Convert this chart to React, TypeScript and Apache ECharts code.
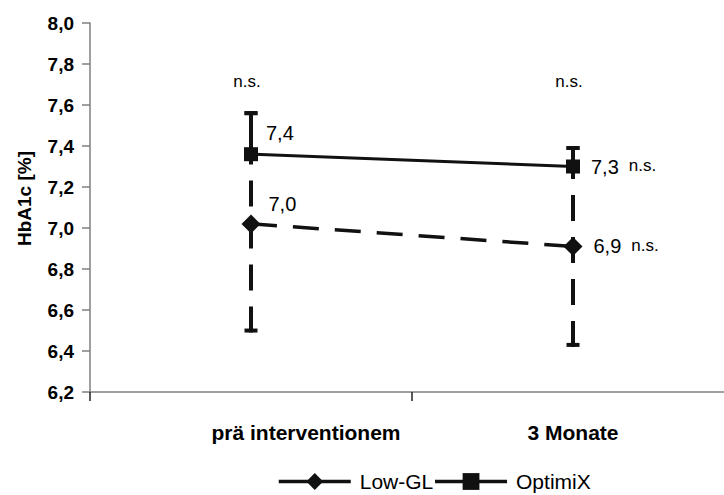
import React, { useEffect, useRef } from "react";
import * as echarts from "echarts";

// HbA1c over time for the two diet groups
const categories = ["prä interventionem", "3 Monate"];
const lowGL = [7.02, 6.91];
const optimix = [7.36, 7.3];
const lowGLLower = [6.49, 6.42];
const lowGLUpper = [7.57, 7.4];
const optimixUpper = [7.57, 7.4];
const significance = ["n.s.", "n.s."];
const significanceLevel = 7.715;
const yTicks = { min: 6.2, max: 8.0, step: 0.2 };

const FONT = '"Liberation Sans", Arial, Helvetica, sans-serif';
const INK = "#000000";

const fmt = (v: number) => v.toFixed(1).replace(".", ",");

export default function App() {
  const ref = useRef<HTMLDivElement>(null);

  useEffect(() => {
    if (!ref.current) return;
    const chart = echarts.init(ref.current, undefined, { renderer: "svg" });

    const errorBar = (dash: boolean, width: number) =>
      function (_params: any, api: any) {
        const i = api.value(0);
        const lo = api.coord([i, api.value(1)]);
        const hi = api.coord([i, api.value(2)]);
        const capHalf = 6.5;
        const style = { stroke: "#111", lineWidth: width, lineDash: dash ? [26, 16] : undefined };
        return {
          type: "group",
          children: [
            {
              type: "line",
              shape: { x1: lo[0], y1: lo[1], x2: hi[0], y2: hi[1] },
              style,
            },
            {
              type: "line",
              shape: { x1: hi[0] - capHalf, y1: hi[1] + 2, x2: hi[0] + capHalf, y2: hi[1] + 2 },
              style: { stroke: "#111", lineWidth: 4 },
            },
            ...(dash
              ? [
                  {
                    type: "line",
                    shape: { x1: lo[0] - capHalf, y1: lo[1] - 2, x2: lo[0] + capHalf, y2: lo[1] - 2 },
                    style: { stroke: "#111", lineWidth: 4 },
                  },
                ]
              : []),
          ],
        };
      };

    const valueLabel = (idx: number, offsetY: number, withSig: boolean) => ({
      show: true,
      position: "right" as const,
      distance: idx === 0 ? 8 : 11,
      offset: [0, offsetY],
      color: INK,
      fontFamily: FONT,
      fontSize: 20,
      formatter: (p: any) =>
        withSig ? `{v|${fmt(p.value)}}{ns|${significance[idx]}}` : fmt(p.value),
      rich: {
        v: { fontFamily: FONT, fontSize: 20, color: INK },
        ns: { fontFamily: FONT, fontSize: 17, color: INK, padding: [0, 0, 2, 10] },
      },
    });

    chart.setOption({
      animation: false,
      backgroundColor: "#ffffff",
      grid: {
        left: 90,
        top: 23,
        width: 644,
        height: 369,
        containLabel: false,
        outerBoundsMode: "none",
      },
      legend: {
        data: ["Low-GL", "OptimiX"],
        left: 272,
        top: 466,
        itemWidth: 72,
        itemHeight: 21,
        itemGap: 0,
        lineStyle: { type: "solid", width: 3.5 },
        textStyle: {
          fontFamily: FONT,
          fontSize: 21,
          color: INK,
          padding: [0, 0, 0, 4],
        },
      },
      xAxis: {
        type: "category",
        data: categories.map((c, i) => ({
          value: c,
          textStyle: i === 0 ? { padding: [0, 0, 0, 110] } : {},
        })),
        boundaryGap: true,
        axisLine: { lineStyle: { color: "#7f7f7f", width: 1.5 } },
        axisTick: { show: true, length: 9, lineStyle: { color: "#222", width: 1.5 } },
        axisLabel: {
          margin: 30,
          color: INK,
          fontFamily: FONT,
          fontWeight: "bold",
          fontSize: 21,
        },
      },
      yAxis: {
        type: "value",
        min: yTicks.min,
        max: yTicks.max,
        interval: yTicks.step,
        name: "HbA1c [%]",
        nameLocation: "middle",
        nameRotate: 90,
        nameGap: 56,
        nameTextStyle: {
          color: INK,
          fontFamily: FONT,
          fontWeight: "bold",
          fontSize: 19,
          padding: [0, 0, 0, 18],
        },
        splitLine: { show: false },
        axisLine: { show: true, lineStyle: { color: "#7f7f7f", width: 1.5 } },
        axisTick: { show: true, length: 8, lineStyle: { color: "#7f7f7f", width: 1.5 } },
        axisLabel: {
          margin: 16,
          color: INK,
          fontFamily: FONT,
          fontWeight: "bold",
          fontSize: 19,
          formatter: (v: number) => fmt(v),
        },
      },
      series: [
        {
          type: "custom",
          name: "Low-GL SD",
          z: 1,
          renderItem: errorBar(true, 4),
          encode: { x: 0, y: [1, 2] },
          data: categories.map((_, i) => [i, lowGLLower[i], lowGLUpper[i]]),
          silent: true,
        },
        {
          type: "custom",
          name: "OptimiX SD",
          z: 1,
          renderItem: errorBar(false, 4),
          encode: { x: 0, y: [1, 2] },
          data: categories.map((_, i) => [i, optimix[i], optimixUpper[i]]),
          silent: true,
        },
        {
          type: "line",
          name: "Low-GL",
          z: 3,
          symbol: "diamond",
          symbolSize: 19,
          color: "#111",
          itemStyle: { color: "#111" },
          lineStyle: { color: "#111", width: 3.5, type: [26, 16] },
          data: lowGL.map((v, i) => ({
            value: v,
            label: valueLabel(i, i === 0 ? -20 : 0, i === 1),
          })),
        },
        {
          type: "line",
          name: "OptimiX",
          z: 3,
          symbol: "rect",
          symbolSize: 14,
          color: "#111",
          itemStyle: { color: "#111" },
          lineStyle: { color: "#111", width: 3 },
          data: optimix.map((v, i) => ({
            value: v,
            label: valueLabel(i, i === 0 ? -21 : 0, i === 1),
          })),
        },
        {
          type: "scatter",
          name: "Signifikanz",
          symbolSize: 0,
          silent: true,
          itemStyle: { opacity: 1 },
          data: categories.map((_, i) => [i, significanceLevel]),
          label: {
            show: true,
            position: "inside",
            offset: [-4, 0],
            color: INK,
            textBorderWidth: 0,
            fontFamily: FONT,
            fontSize: 17,
            formatter: (p: any) => significance[p.dataIndex],
          },
        },
      ],
    });

    return () => chart.dispose();
  }, []);

  return (
    <div
      ref={ref}
      style={{ position: "absolute", left: 0, top: 0, width: 724, height: 495 }}
    />
  );
}
